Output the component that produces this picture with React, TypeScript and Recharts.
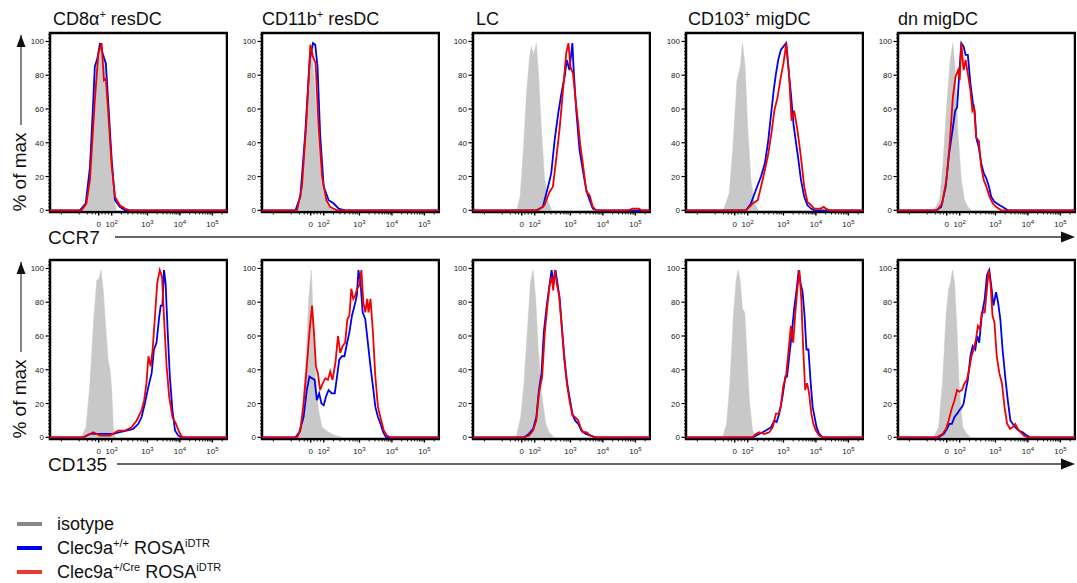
import React from 'react';
import { ComposedChart, Area, Line, XAxis, YAxis, ReferenceArea } from 'recharts';

type Pt = [number, number];

// x values are positions on the logicle display axis (10^3 = 3, 10^4 = 4, 10^5 = 5), y is % of max
const xTickPos = [1.5, 1.9, 3, 4, 5];
const xTickLabels: [string, string][] = [['0', ''], ['10', '2'], ['10', '3'], ['10', '4'], ['10', '5']];
const xMinorPos = [0.35, 0.9, 1.15, 1.3, 1.4, 1.6, 1.7, 1.8, 2.2, 2.4, 2.55, 2.7, 2.8, 2.87, 2.93,
  3.3, 3.48, 3.6, 3.7, 3.78, 3.85, 3.9, 3.95, 4.3, 4.48, 4.6, 4.7, 4.78, 4.85, 4.9, 4.95, 5.3];
const yTickPos = [0, 20, 40, 60, 80, 100];

const panelTitles = ['CD8α|+| resDC', 'CD11b|+| resDC', 'LC', 'CD103|+| migDC', 'dn migDC'];
const markerNames = ['CCR7', 'CD135'];
const legendNames = [['isotype', '', ''], ['Clec9a', '+/+', ' ROSA', 'iDTR'], ['Clec9a', '+/Cre', ' ROSA', 'iDTR']];

// ---- CCR7 row ----
const ccr7Cd8Iso: Pt[] = [[0.95, 0], [1.1, 6], [1.25, 35], [1.3, 55], [1.38, 75], [1.46, 92], [1.53, 98], [1.6, 97], [1.68, 88], [1.75, 70], [1.82, 45], [1.9, 20], [1.97, 6], [2.05, 0]];
const ccr7Cd8Wt: Pt[] = [[0.92, 0], [1.1, 4], [1.23, 25], [1.32, 60], [1.38, 85], [1.46, 90], [1.54, 99], [1.62, 93], [1.72, 87], [1.79, 65], [1.9, 30], [2.0, 6], [2.15, 2], [2.31, 0]];
const ccr7Cd8Cre: Pt[] = [[0.97, 0], [1.12, 4], [1.23, 18], [1.38, 65], [1.49, 93], [1.59, 99], [1.66, 77], [1.72, 78], [1.79, 59], [1.9, 26], [2.0, 8], [2.15, 3], [2.31, 1], [2.45, 0]];

const ccr7Cd11bIso: Pt[] = [[1.03, 0], [1.18, 6], [1.3, 35], [1.4, 75], [1.49, 99], [1.55, 90], [1.62, 75], [1.7, 50], [1.8, 25], [1.9, 10], [2.0, 4], [2.15, 1], [2.3, 0]];
const ccr7Cd11bWt: Pt[] = [[1.03, 0], [1.18, 8], [1.33, 45], [1.47, 89], [1.57, 99], [1.64, 98], [1.71, 85], [1.79, 45], [1.9, 14], [2.05, 6], [2.21, 4], [2.36, 1], [2.56, 0]];
const ccr7Cd11bCre: Pt[] = [[1.08, 0], [1.23, 14], [1.36, 50], [1.49, 98], [1.57, 91], [1.65, 87], [1.74, 50], [1.85, 20], [1.98, 6], [2.1, 2], [2.31, 0]];

const ccr7LcIso: Pt[] = [[1.35, 0], [1.45, 8], [1.55, 35], [1.65, 70], [1.75, 92], [1.8, 97], [1.87, 92], [1.95, 99], [2.02, 80], [2.1, 50], [2.2, 20], [2.3, 6], [2.42, 0]];
const ccr7LcWt: Pt[] = [[1.95, 0], [2.15, 2], [2.31, 14], [2.41, 22], [2.51, 41], [2.62, 57], [2.72, 69], [2.82, 79], [2.89, 89], [2.97, 83], [3.06, 99], [3.1, 83], [3.18, 59], [3.28, 36], [3.38, 24], [3.49, 12], [3.59, 6], [3.69, 1], [3.79, 0]];
const ccr7LcCre: Pt[] = [[2.0, 0], [2.2, 3], [2.36, 11], [2.46, 14], [2.56, 30], [2.67, 49], [2.77, 71], [2.87, 93], [2.94, 99], [3.0, 85], [3.08, 81], [3.16, 65], [3.23, 53], [3.3, 39], [3.38, 28], [3.49, 11], [3.59, 9], [3.69, 2], [3.79, 0], [4.8, 0], [4.9, 1], [5.1, 1], [5.2, 0]];

const ccr7Cd103Iso: Pt[] = [[1.15, 0], [1.33, 10], [1.44, 36], [1.57, 77], [1.67, 85], [1.74, 99], [1.82, 85], [1.9, 49], [2.0, 18], [2.1, 4], [2.23, 0]];
const ccr7Cd103Wt: Pt[] = [[1.85, 0], [2.0, 4], [2.15, 12], [2.31, 20], [2.43, 28], [2.53, 41], [2.62, 57], [2.7, 71], [2.77, 81], [2.84, 89], [2.92, 95], [3.0, 97], [3.08, 99], [3.15, 85], [3.23, 69], [3.31, 51], [3.38, 41], [3.46, 30], [3.54, 18], [3.64, 8], [3.74, 3], [3.85, 1], [3.95, 0]];
const ccr7Cd103Cre: Pt[] = [[1.85, 0], [2.05, 4], [2.21, 6], [2.31, 14], [2.43, 24], [2.53, 33], [2.64, 47], [2.72, 59], [2.82, 67], [2.92, 79], [3.0, 87], [3.09, 99], [3.17, 81], [3.25, 53], [3.33, 59], [3.42, 49], [3.49, 39], [3.56, 28], [3.64, 14], [3.74, 5], [3.85, 3], [3.95, 1], [4.15, 1], [4.24, 2], [4.31, 1], [4.41, 0]];

const ccr7DnIso: Pt[] = [[1.1, 0], [1.28, 6], [1.38, 26], [1.51, 65], [1.61, 89], [1.69, 99], [1.77, 81], [1.85, 45], [1.95, 18], [2.05, 6], [2.15, 2], [2.26, 0]];
const ccr7DnWt: Pt[] = [[1.18, 0], [1.33, 2], [1.47, 14], [1.57, 33], [1.69, 49], [1.76, 59], [1.82, 61], [1.88, 79], [1.95, 99], [2.02, 97], [2.08, 92], [2.15, 92], [2.23, 75], [2.31, 63], [2.36, 59], [2.41, 43], [2.49, 37], [2.56, 28], [2.64, 22], [2.72, 19], [2.8, 14], [2.87, 8], [2.97, 5], [3.13, 3], [3.23, 2], [3.38, 0]];
const ccr7DnCre: Pt[] = [[1.2, 0], [1.36, 4], [1.49, 18], [1.59, 39], [1.69, 67], [1.77, 79], [1.85, 83], [1.9, 77], [1.95, 99], [2.02, 83], [2.08, 89], [2.15, 81], [2.23, 71], [2.29, 59], [2.34, 61], [2.41, 43], [2.49, 41], [2.56, 26], [2.64, 18], [2.72, 14], [2.82, 8], [2.92, 4], [3.03, 2], [3.18, 0]];

// ---- CD135 row ----
const cd135Cd8Iso: Pt[] = [[0.97, 0], [1.11, 6], [1.23, 32], [1.35, 71], [1.44, 93], [1.51, 94], [1.57, 99], [1.64, 87], [1.72, 64], [1.79, 46], [1.85, 40], [1.9, 28], [1.95, 6], [2.0, 0]];
const cd135Cd8Wt: Pt[] = [[1.03, 0], [1.23, 2], [1.54, 2], [1.95, 2], [2.15, 3], [2.36, 4], [2.56, 5], [2.72, 8], [2.82, 12], [2.92, 20], [3.03, 30], [3.13, 38], [3.2, 52], [3.28, 56], [3.36, 71], [3.41, 78], [3.46, 78], [3.51, 99], [3.56, 91], [3.62, 64], [3.69, 36], [3.77, 16], [3.85, 4], [3.95, 1], [4.05, 0]];
const cd135Cd8Cre: Pt[] = [[1.03, 0], [1.23, 2], [1.33, 3], [1.54, 1], [1.85, 1], [2.1, 4], [2.31, 4], [2.51, 6], [2.67, 10], [2.82, 16], [2.9, 22], [2.97, 32], [3.03, 48], [3.1, 42], [3.16, 52], [3.23, 71], [3.3, 91], [3.38, 99], [3.45, 95], [3.51, 71], [3.59, 42], [3.67, 24], [3.77, 12], [3.88, 8], [3.98, 3], [4.08, 0]];

const cd135Cd11bIso: Pt[] = [[1.08, 0], [1.23, 12], [1.35, 46], [1.44, 82], [1.52, 99], [1.59, 62], [1.66, 32], [1.74, 16], [1.85, 6], [2.05, 3], [2.26, 1], [2.46, 0]];
const cd135Cd11bWt: Pt[] = [[1.03, 0], [1.15, 3], [1.28, 12], [1.38, 28], [1.46, 36], [1.54, 35], [1.62, 34], [1.69, 22], [1.76, 26], [1.83, 20], [1.9, 19], [1.97, 24], [2.05, 28], [2.15, 26], [2.24, 26], [2.31, 36], [2.38, 46], [2.46, 48], [2.54, 48], [2.62, 56], [2.69, 62], [2.77, 72], [2.85, 78], [2.92, 84], [2.97, 99], [3.04, 90], [3.1, 74], [3.18, 70], [3.26, 56], [3.34, 42], [3.43, 28], [3.49, 18], [3.57, 12], [3.65, 8], [3.73, 3], [3.82, 0]];
const cd135Cd11bCre: Pt[] = [[1.08, 0], [1.18, 4], [1.28, 20], [1.38, 42], [1.46, 62], [1.54, 78], [1.6, 62], [1.66, 42], [1.72, 38], [1.79, 28], [1.87, 32], [1.95, 35], [2.03, 34], [2.1, 39], [2.17, 34], [2.26, 44], [2.34, 60], [2.41, 50], [2.48, 54], [2.56, 56], [2.63, 70], [2.69, 72], [2.75, 88], [2.81, 82], [2.87, 84], [2.93, 88], [2.99, 90], [3.06, 99], [3.12, 80], [3.18, 74], [3.24, 82], [3.28, 74], [3.34, 82], [3.41, 64], [3.49, 36], [3.57, 18], [3.67, 10], [3.75, 4], [3.85, 1], [3.95, 0]];

const cd135LcIso: Pt[] = [[1.33, 0], [1.47, 12], [1.57, 32], [1.67, 62], [1.77, 92], [1.85, 99], [1.93, 82], [2.01, 52], [2.11, 26], [2.24, 8], [2.34, 3], [2.49, 0]];
const cd135LcWt: Pt[] = [[1.57, 0], [1.72, 2], [1.85, 5], [1.95, 12], [2.03, 28], [2.11, 38], [2.18, 62], [2.26, 76], [2.34, 88], [2.42, 99], [2.48, 91], [2.54, 99], [2.61, 90], [2.67, 82], [2.75, 62], [2.83, 44], [2.9, 32], [2.97, 24], [3.06, 14], [3.14, 10], [3.24, 8], [3.34, 4], [3.47, 2], [3.62, 1], [3.77, 0]];
const cd135LcCre: Pt[] = [[1.57, 0], [1.72, 1], [1.85, 4], [1.95, 10], [2.03, 26], [2.13, 36], [2.21, 62], [2.29, 78], [2.36, 90], [2.42, 95], [2.47, 87], [2.52, 99], [2.58, 91], [2.65, 84], [2.73, 66], [2.81, 46], [2.89, 32], [2.97, 22], [3.06, 13], [3.14, 12], [3.24, 10], [3.31, 6], [3.38, 3], [3.49, 3], [3.62, 1], [3.77, 0]];

const cd135Cd103Iso: Pt[] = [[1.13, 0], [1.25, 8], [1.35, 32], [1.46, 72], [1.54, 92], [1.6, 99], [1.66, 94], [1.74, 76], [1.81, 74], [1.87, 52], [1.95, 22], [2.05, 4], [2.15, 0]];
const cd135Cd103Wt: Pt[] = [[2.05, 0], [2.26, 2], [2.46, 4], [2.62, 6], [2.72, 10], [2.79, 9], [2.87, 14], [2.97, 24], [3.06, 36], [3.11, 36], [3.18, 48], [3.26, 62], [3.33, 76], [3.41, 88], [3.47, 99], [3.53, 91], [3.59, 86], [3.65, 72], [3.71, 52], [3.77, 52], [3.84, 32], [3.9, 18], [3.96, 12], [4.02, 6], [4.1, 2], [4.21, 0]];
const cd135Cd103Cre: Pt[] = [[2.05, 0], [2.15, 2], [2.26, 3], [2.41, 2], [2.56, 3], [2.67, 6], [2.77, 14], [2.85, 14], [2.92, 18], [2.99, 30], [3.08, 36], [3.16, 52], [3.23, 66], [3.3, 56], [3.36, 72], [3.43, 88], [3.49, 99], [3.55, 82], [3.61, 52], [3.67, 28], [3.73, 32], [3.79, 26], [3.86, 14], [3.92, 8], [4.0, 4], [4.1, 1], [4.21, 0]];

const cd135DnIso: Pt[] = [[1.1, 0], [1.25, 6], [1.37, 32], [1.48, 72], [1.56, 88], [1.62, 92], [1.68, 99], [1.74, 92], [1.82, 62], [1.89, 28], [1.99, 6], [2.12, 2], [2.23, 0]];
const cd135DnWt: Pt[] = [[1.25, 0], [1.41, 2], [1.51, 5], [1.58, 8], [1.66, 8], [1.74, 12], [1.82, 14], [1.89, 16], [1.97, 18], [2.02, 20], [2.09, 28], [2.15, 34], [2.23, 48], [2.3, 54], [2.38, 52], [2.44, 60], [2.5, 56], [2.58, 72], [2.67, 82], [2.74, 96], [2.81, 99], [2.87, 90], [2.94, 78], [3.02, 86], [3.08, 80], [3.15, 70], [3.22, 52], [3.3, 36], [3.38, 22], [3.46, 10], [3.53, 8], [3.61, 6], [3.71, 4], [3.84, 3], [3.97, 1], [4.07, 0]];
const cd135DnCre: Pt[] = [[1.2, 0], [1.37, 2], [1.48, 5], [1.56, 10], [1.64, 16], [1.74, 22], [1.82, 28], [1.89, 27], [1.97, 28], [2.05, 32], [2.12, 34], [2.19, 40], [2.26, 48], [2.33, 52], [2.4, 58], [2.46, 66], [2.52, 64], [2.58, 74], [2.67, 74], [2.73, 86], [2.79, 99], [2.85, 91], [2.91, 72], [2.97, 68], [3.04, 48], [3.12, 38], [3.2, 32], [3.28, 18], [3.36, 8], [3.45, 5], [3.53, 6], [3.61, 8], [3.69, 5], [3.77, 3], [3.88, 1], [4.0, 0]];

const rows = [
  [[ccr7Cd8Iso, ccr7Cd8Wt, ccr7Cd8Cre], [ccr7Cd11bIso, ccr7Cd11bWt, ccr7Cd11bCre], [ccr7LcIso, ccr7LcWt, ccr7LcCre], [ccr7Cd103Iso, ccr7Cd103Wt, ccr7Cd103Cre], [ccr7DnIso, ccr7DnWt, ccr7DnCre]],
  [[cd135Cd8Iso, cd135Cd8Wt, cd135Cd8Cre], [cd135Cd11bIso, cd135Cd11bWt, cd135Cd11bCre], [cd135LcIso, cd135LcWt, cd135LcCre], [cd135Cd103Iso, cd135Cd103Wt, cd135Cd103Cre], [cd135DnIso, cd135DnWt, cd135DnCre]],
];

const X_MAX = 5.45;
const FONT = '"Liberation Sans", Arial, Helvetica, sans-serif';
const GRAY = '#c8c8c8';
const BLUE = '#0000f0';
const RED = '#f00000';

const colLeft = [50, 262, 473, 686, 898];
const rowTop = [33, 260];
const PLOT_W = 177;
const PLOT_H = 179;
const Y_AXIS_W = 32;
const TOP_PAD = 4;
const X_AXIS_H = 22;

const allXTicks = [...xMinorPos, ...xTickPos].sort((a, b) => a - b);
const yMinor: number[] = [];
for (let v = 0; v <= 104; v += 2) yMinor.push(v);

const toRows = (pts: Pt[]) => pts.map(([x, y]) => ({ x, y }));
const withBaseline = (pts: Pt[]) => toRows([[0, 0] as Pt, ...pts, [X_MAX, 0] as Pt]);

function XTick(props: any) {
  const { x, y, payload } = props;
  const i = xTickPos.indexOf(payload.value);
  if (i < 0) {
    return <line x1={x} x2={x} y1={y} y2={y + 2.5} stroke="#000" strokeWidth={0.9} />;
  }
  const [base, sup] = xTickLabels[i];
  return (
    <g>
      <line x1={x} x2={x} y1={y} y2={y + 3.5} stroke="#000" strokeWidth={1.4} />
      <text x={x} y={y + 15} textAnchor="middle" fontSize={8} fontFamily={FONT} fill="#222">
        {base}
        {sup && <tspan dy={-3.5} fontSize={6}>{sup}</tspan>}
      </text>
    </g>
  );
}

function YTick(props: any) {
  const { x, y, payload } = props;
  if (!yTickPos.includes(payload.value)) {
    return <line x1={x - 2} x2={x} y1={y} y2={y} stroke="#000" strokeWidth={0.8} />;
  }
  return (
    <g>
      <line x1={x - 4.5} x2={x} y1={y} y2={y} stroke="#000" strokeWidth={1.2} />
      <text x={x - 6} y={y + 3} textAnchor="end" fontSize={8} fontFamily={FONT} fill="#222">
        {payload.value}
      </text>
    </g>
  );
}

function Histogram({ left, top, series }: { left: number; top: number; series: Pt[][] }) {
  const [iso, wt, cre] = series;
  return (
    <div style={{ position: 'absolute', left: left - Y_AXIS_W, top: top - TOP_PAD }}>
      <ComposedChart
        width={Y_AXIS_W + PLOT_W + 1}
        height={TOP_PAD + PLOT_H + X_AXIS_H}
        margin={{ top: TOP_PAD, right: 1, bottom: 0, left: 0 }}
      >
        <XAxis
          type="number"
          dataKey="x"
          domain={[0, X_MAX]}
          allowDataOverflow
          ticks={allXTicks}
          interval={0}
          tick={XTick}
          tickLine={false}
          axisLine={false}
          tickSize={0}
          tickMargin={0}
          height={X_AXIS_H}
        />
        <YAxis
          type="number"
          domain={[-1, 105]}
          allowDataOverflow
          ticks={yMinor}
          interval={0}
          tick={YTick}
          tickLine={false}
          axisLine={false}
          tickSize={0}
          tickMargin={0}
          width={Y_AXIS_W}
        />
        <Area
          data={toRows(iso)}
          dataKey="y"
          type="linear"
          baseValue={0}
          fill={GRAY}
          fillOpacity={1}
          stroke={GRAY}
          strokeWidth={0.5}
          isAnimationActive={false}
        />
        <Line data={withBaseline(wt)} dataKey="y" type="linear" stroke={BLUE} strokeWidth={1.8} dot={false} isAnimationActive={false} />
        <Line data={withBaseline(cre)} dataKey="y" type="linear" stroke={RED} strokeWidth={1.8} dot={false} isAnimationActive={false} />
        <ReferenceArea x1={0} x2={X_MAX} y1={-1} y2={105} fill="none" stroke="#000" strokeWidth={2.5} ifOverflow="visible" />
      </ComposedChart>
    </div>
  );
}

function Title({ x, label }: { x: number; label: string }) {
  const parts = label.split('|');
  return (
    <text x={x} y={25} fontSize={18} fontFamily={FONT} fill="#111">
      {parts[0]}
      {parts.length > 1 && <tspan dy={-7} fontSize={11}>{parts[1]}</tspan>}
      {parts.length > 2 && <tspan dy={7}>{parts[2]}</tspan>}
    </text>
  );
}

export default function App() {
  const legendColors = ['#888888', BLUE, '#e8392f'];
  return (
    <div style={{ position: 'absolute', left: 0, top: 0, width: 1077, height: 583, overflow: 'hidden', background: '#fff' }}>
      <svg width={1077} height={583} style={{ position: 'absolute', left: 0, top: 0 }}>
        <defs>
          <marker id="head" markerWidth="10" markerHeight="8" refX="9" refY="4" orient="auto" markerUnits="userSpaceOnUse">
            <path d="M0,0 L10,4 L0,8 Z" fill="#222" />
          </marker>
        </defs>
        {panelTitles.map((t, i) => (
          <Title key={t} x={colLeft[i] + [3, 0, 3, 2, 0][i]} label={t} />
        ))}
        {rowTop.map((top, r) => (
          <g key={r}>
            <line x1={21} x2={21} y1={top + 92} y2={top + 2} stroke="#444" strokeWidth={1.3} />
            <path d={`M16.5,${top + 14} L21,${top + 2} L25.5,${top + 14} Z`} fill="#111" />
            <text
              x={26}
              y={top + 139}
              transform={`rotate(-90 26 ${top + 139})`}
              textAnchor="middle"
              fontSize={19}
              fontFamily={FONT}
              fill="#111"
            >
              % of max
            </text>
            <text x={48} y={top + 211} fontSize={19} fontFamily={FONT} fill="#111">
              {markerNames[r]}
            </text>
            <line x1={r === 0 ? 115 : 117} x2={1064} y1={top + 204} y2={top + 204} stroke="#333" strokeWidth={1.3} />
            <path d={`M1061,${top + 198.5} L1075,${top + 204} L1061,${top + 209.5} Z`} fill="#111" />
          </g>
        ))}
        {legendNames.map((l, i) => (
          <g key={i}>
            <line x1={17} x2={42} y1={524 + i * 24} y2={524 + i * 24} stroke={legendColors[i]} strokeWidth={4} />
            <text x={57} y={530 + i * 24} fontSize={18} fontFamily={FONT} fill="#111">
              {l[0]}
              {l[1] && <tspan dy={-7} fontSize={11}>{l[1]}</tspan>}
              {l[2] && <tspan dy={7}>{l[2]}</tspan>}
              {l[3] && <tspan dy={-7} fontSize={11}>{l[3]}</tspan>}
            </text>
          </g>
        ))}
      </svg>
      {rows.map((row, r) =>
        row.map((series, c) => (
          <Histogram key={`${r}-${c}`} left={colLeft[c]} top={rowTop[r]} series={series} />
        ))
      )}
    </div>
  );
}
